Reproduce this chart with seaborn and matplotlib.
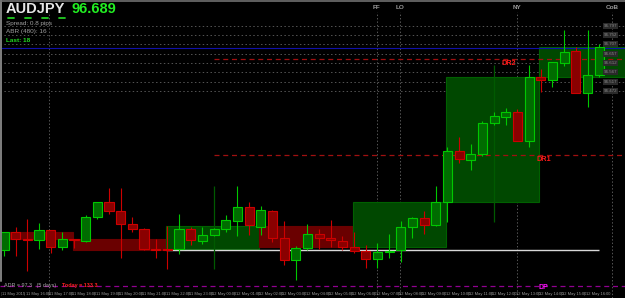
import matplotlib
matplotlib.use("Agg")
import matplotlib.pyplot as plt
from matplotlib.lines import Line2D
from matplotlib.patches import Rectangle
import seaborn as sns

# ---------------- data ----------------
symbol = "AUDJPY"
last_price = 96.689
spread_text = "Spread: 0.8 pips"
abr_text = "ABR (480): 16"
last_text = "Last: 18"
adr_text = "ADR = 97.3   (5 days)"
today_text = "Today = 133.3"

opens = [95.677, 95.767, 95.732, 95.727, 95.777, 95.692, 95.732, 95.722, 95.842, 95.917,
         95.872, 95.807, 95.782, 95.682, 95.682, 95.682, 95.782, 95.722, 95.752, 95.782,
         95.822, 95.892, 95.792, 95.872, 95.737, 95.627, 95.687, 95.757, 95.737, 95.722,
         95.692, 95.672, 95.632, 95.667, 95.677, 95.792, 95.837, 95.802, 95.917, 96.172,
         96.127, 96.157, 96.312, 96.342, 96.367, 96.222, 96.542, 96.527, 96.612, 96.672,
         96.462, 96.552]
highs = [95.767, 95.792, 95.832, 95.812, 95.777, 95.767, 95.732, 95.852, 95.917, 95.987,
         95.987, 95.842, 95.787, 95.732, 95.797, 95.857, 95.792, 95.792, 95.787, 95.852,
         95.997, 95.917, 95.897, 95.877, 95.822, 95.697, 95.807, 95.782, 95.827, 95.747,
         95.767, 95.702, 95.712, 95.757, 95.822, 95.842, 95.872, 95.997, 96.192, 96.242,
         96.207, 96.322, 96.367, 96.387, 96.382, 96.602, 96.582, 96.617, 96.777, 96.692,
         96.777, 96.707]
lows = [95.647, 95.647, 95.572, 95.682, 95.662, 95.677, 95.687, 95.717, 95.832, 95.857,
        95.637, 95.767, 95.677, 95.637, 95.582, 95.657, 95.702, 95.707, 95.747, 95.767,
        95.747, 95.752, 95.752, 95.717, 95.602, 95.527, 95.677, 95.682, 95.692, 95.677,
        95.662, 95.587, 95.587, 95.637, 95.617, 95.737, 95.757, 95.797, 95.817, 96.112,
        96.077, 96.147, 96.302, 96.302, 96.222, 96.192, 96.467, 96.492, 96.597, 96.462,
        96.392, 96.542]
closes = [95.767, 95.732, 95.727, 95.777, 95.692, 95.732, 95.727, 95.842, 95.917, 95.872,
          95.807, 95.782, 95.682, 95.677, 95.677, 95.782, 95.727, 95.752, 95.782, 95.827,
          95.892, 95.802, 95.877, 95.737, 95.627, 95.687, 95.757, 95.737, 95.727, 95.692,
          95.672, 95.632, 95.667, 95.672, 95.792, 95.837, 95.802, 95.917, 96.172, 96.132,
          96.157, 96.312, 96.347, 96.367, 96.222, 96.542, 96.527, 96.617, 96.667, 96.462,
          96.552, 96.692]

# higher-timeframe wicks (dim)
htf_idx = [18, 42]
htf_high = [95.997, 96.602]
htf_low = [95.582, 95.817]

# range boxes (start candle, high, low, bullish)
box_start = [-2, 6, 14, 22, 30, 38, 46]
box_high = [95.767, 95.732, 95.797, 95.797, 95.917, 96.542, 96.692]
box_low = [95.732, 95.677, 95.682, 95.692, 95.692, 95.917, 96.542]
box_bull = [False, False, True, False, True, True, True]

day_open = 95.679
dr1 = 96.152
dr2 = 96.632
dp = 95.498
grid_levels = [96.797, 96.752, 96.707, 96.657, 96.612, 96.567, 96.517, 96.472]

sess_pos = [3.85, 31.96, 33.9, 43.96, 52.1]
sess_labels = ["", "FF", "LO", "NY", "CoB"]

time_labels = ["11 May 2015", "11 May 16:00", "11 May 17:00", "11 May 18:00", "11 May 19:00",
               "11 May 20:00", "11 May 21:00", "11 May 22:00", "11 May 23:00", "12 May 00:00",
               "12 May 01:00", "12 May 02:00", "12 May 03:00", "12 May 04:00", "12 May 05:00",
               "12 May 06:00", "12 May 07:00", "12 May 08:00", "12 May 09:00", "12 May 10:00",
               "12 May 11:00", "12 May 12:00", "12 May 13:00", "12 May 14:00", "12 May 15:00",
               "12 May 16:00"]

# ---------------- figure ----------------
sns.set_theme(style="dark", rc={"axes.facecolor": "black", "figure.facecolor": "black"})
plt.rcParams["font.family"] = ["Liberation Sans", "DejaVu Sans"]

W, H = 625, 298
fig = plt.figure(figsize=(W / 100, H / 100), dpi=100)
ax = fig.add_axes([0, 0, 1, 1])
ax.set_facecolor("black")
step = 11.67
x0 = 4.0
ax.set_xlim((0 - x0) / step, (W - x0) / step)
top_price = 96.9265
ax.set_ylim(top_price - 0.005 * H, top_price)
for s in ax.spines.values():
    s.set_visible(False)
ax.set_xticks([])
ax.set_yticks([])
ax.grid(False)

n = len(opens)
xs = list(range(n))

# boxes
for st, hi, lo, bull in zip(box_start, box_high, box_low, box_bull):
    fc = "#004800" if bull else "#6a0000"
    ec = "#006000" if bull else "#6a0000"
    ax.add_patch(Rectangle((st - 0.12, lo), 8, hi - lo, facecolor=fc, edgecolor=ec,
                           linewidth=0.8, zorder=1))

# grid lines
for g in grid_levels:
    ax.axhline(g, color="#555555", lw=0.7, ls=(0, (1.5, 2.5)), zorder=0.5)
for p in sess_pos:
    ax.axvline(p, ymin=0.0, ymax=0.96, color="#555555", lw=0.7, ls=(0, (1.5, 2.0)), zorder=0.5)

# levels
ax.axhline(last_price, color="#1010a8", lw=0.8, zorder=2)
ax.hlines(day_open, 13.88, n - 1, color="#d8d8d8", lw=1.0, zorder=2)
ax.hlines([dr1, dr2], 18, (W - x0) / step, color="#a01010", lw=0.9,
          linestyles=(0, (4, 3)), zorder=2)
ax.axhline(dp, color="#900090", lw=0.9, ls=(0, (4, 3)), zorder=2)

# dim wicks
ax.vlines(htf_idx, htf_low, htf_high, color="#005a00", lw=0.9, zorder=2.5)

# candles
up_fc, up_ec = "#006c00", "#00c800"
dn_fc, dn_ec = "#8a0000", "#cc0000"
for i, o, h, l, c in zip(xs, opens, highs, lows, closes):
    bull = c >= o
    ec = up_ec if bull else dn_ec
    fc = up_fc if bull else dn_fc
    ax.vlines(i, l, h, color=ec, lw=0.8, zorder=3)
    bot = min(o, c)
    ht = max(abs(c - o), 0.002)
    ax.bar(i, ht, bottom=bot, width=0.78, color=fc, edgecolor=ec, linewidth=0.8, zorder=4)

# level labels
ax.text(45.6, dr1 - 0.006, "DR1", color="#ff1a1a", fontsize=5.2, fontweight="bold",
        va="top", ha="left", zorder=6)
ax.text(42.6, dr2 - 0.006, "DR2", color="#ff1a1a", fontsize=5.2, fontweight="bold",
        va="top", ha="left", zorder=6)
ax.text(45.8, dp + 0.009, "DP", color="#ff10ff", fontsize=5.0, fontweight="bold",
        va="top", ha="left", zorder=6)

# right price labels
for g in grid_levels:
    ax.text(51.95, g, f"{g:.3f}", color="#8a8a8a", fontsize=3.2, ha="center", va="center",
            zorder=6, bbox=dict(boxstyle="square,pad=0.15", fc="#2a2a2a", ec="none"))

# session labels
for p, lab in zip(sess_pos, sess_labels):
    if lab:
        ax.text(p, top_price - 0.005 * 7.5, lab, color="#9a9a9a", fontsize=4.6,
                fontweight="bold", ha="center", va="center", zorder=6)

# time axis labels
for k, lab in enumerate(time_labels):
    ax.text(2 * k - 0.15, top_price - 0.005 * 293.5, lab, color="#9a9a9a", fontsize=2.9,
            ha="left", va="center", zorder=6)
    ax.text(2 * k - 0.25, top_price - 0.005 * 293.5, "|", color="#6a6a6a", fontsize=3,
            ha="center", va="center", zorder=6)


def fx(x):
    return x / W


def fy(y):
    return 1 - y / H


# header
fig.text(fx(6), fy(2), symbol, color="#e6e6e6", fontsize=10.5, fontweight="bold",
         ha="left", va="top")
fig.text(fx(72), fy(2), f"{last_price:.3f}", color="#22ee22", fontsize=10.5,
         fontweight="bold", ha="left", va="top")
for k in range(4):
    fig.add_artist(Line2D([fx(8 + 17 * k), fx(14 + 17 * k)], [fy(17.5), fy(17.5)],
                          color="#22cc22", lw=1.3))
fig.text(fx(6), fy(21.5), spread_text, color="#a0a0a0", fontsize=4.6, ha="left", va="top")
fig.text(fx(6), fy(29.5), abr_text, color="#a0a0a0", fontsize=4.6, ha="left", va="top")
fig.text(fx(6), fy(37.5), last_text, color="#22dd22", fontsize=4.6, fontweight="bold",
         ha="left", va="top")
fig.text(fx(4), fy(283.5), adr_text, color="#a8a8a8", fontsize=3.9, ha="left", va="top")
fig.text(fx(62), fy(283.5), today_text, color="#ff2020", fontsize=3.9, fontweight="bold",
         ha="left", va="top")

# frame
fig.add_artist(Line2D([fx(1), fx(1)], [fy(0), fy(281)], color="#808080", lw=1.4))
fig.add_artist(Line2D([0, 1], [fy(0.6), fy(0.6)], color="#707070", lw=1.2))

fig.savefig("out.png", dpi=100, facecolor="black")
